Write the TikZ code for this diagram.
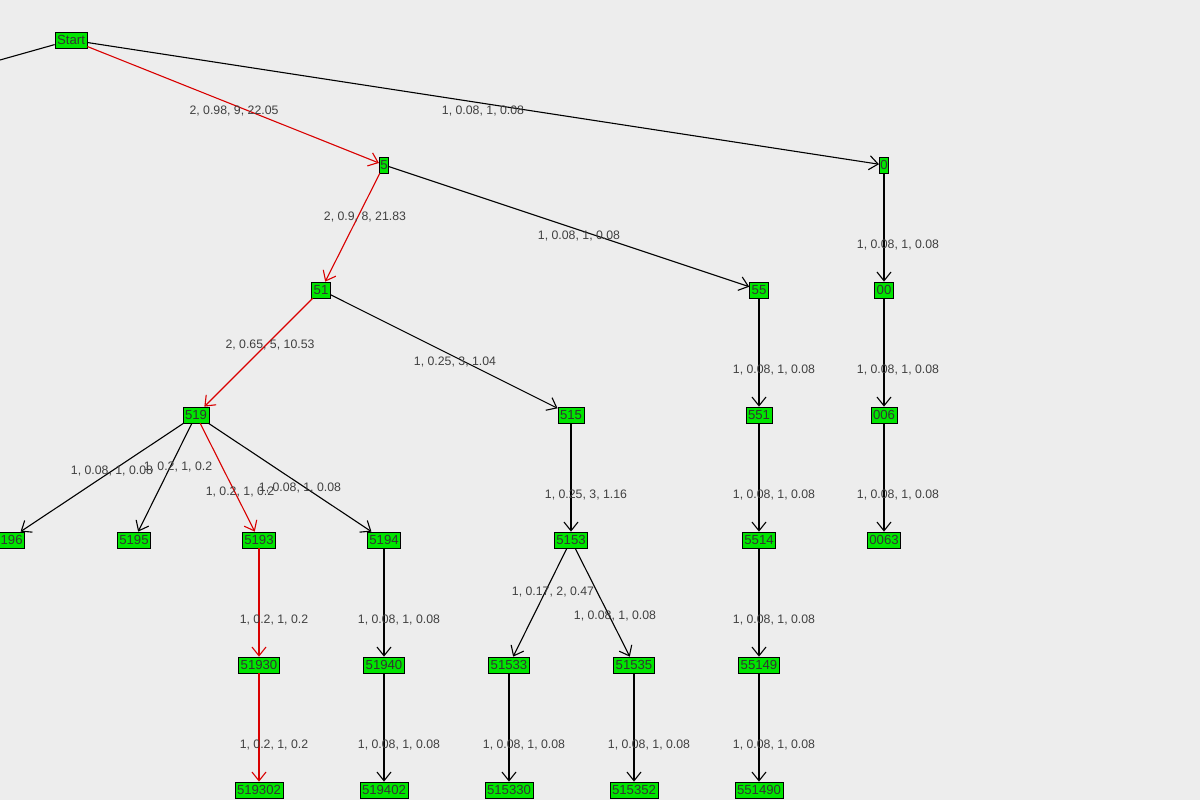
\documentclass[tikz,border=0pt]{standalone}
\usepackage{fontspec}
\setmainfont{Liberation Sans}
\usetikzlibrary{arrows.meta}

\begin{document}
\begin{tikzpicture}[x=0.02cm, y=-0.02cm,
                    treenode/.style={rectangle, draw=black, fill=green!90!black, text=black!80, font=\fontsize{7.5}{8}\selectfont, inner sep=1.2pt, minimum height=0.32cm},
                    lbl/.style={text=black!75, font=\fontsize{7}{8}\selectfont, inner sep=0pt},
                    edge/.style={line width=0.22mm, -{Straight Barb[length=5pt,width=8pt]}},
                    hot/.style={edge, draw=red!85!black},
                ]
                    \fill[black!7] (0,0) rectangle (1200,800);
                    \useasboundingbox (0,0) rectangle (1200,800);

                    %Nodes
                    \node[treenode](start) at (71,40) {Start};
                    \coordinate (offleft) at (0,60);
                    \node[treenode, inner sep=0.6pt](n5) at (384,165) {5};
                    \node[treenode, inner sep=0.6pt](n0) at (884,165) {0};
                    \node[treenode](n51) at (321,290) {51};
                    \node[treenode](n55) at (759,290) {55};
                    \node[treenode](n00) at (884,290) {00};
                    \node[treenode](n519) at (196,415) {519};
                    \node[treenode](n515) at (571,415) {515};
                    \node[treenode](n551) at (759,415) {551};
                    \node[treenode](n006) at (884,415) {006};
                    \node[treenode](n5196) at (8,540) {5196};
                    \node[treenode](n5195) at (134,540) {5195};
                    \node[treenode](n5193) at (259,540) {5193};
                    \node[treenode](n5194) at (384,540) {5194};
                    \node[treenode](n5153) at (571,540) {5153};
                    \node[treenode](n5514) at (759,540) {5514};
                    \node[treenode](n0063) at (884,540) {0063};
                    \node[treenode](n51930) at (259,665) {51930};
                    \node[treenode](n51940) at (384,665) {51940};
                    \node[treenode](n51533) at (509,665) {51533};
                    \node[treenode](n51535) at (634,665) {51535};
                    \node[treenode](n55149) at (759,665) {55149};
                    \node[treenode](n519302) at (259,790) {519302};
                    \node[treenode](n519402) at (384,790) {519402};
                    \node[treenode](n515330) at (509,790) {515330};
                    \node[treenode](n515352) at (634,790) {515352};
                    \node[treenode](n551490) at (759,790) {551490};

                    %Lines
                    \draw[line width=0.22mm](start) -- (offleft);
                    \draw[hot](start) -- (n5);
                    \draw[edge](start) -- (n0);
                    \draw[hot](n5) -- (n51);
                    \draw[edge](n5) -- (n55);
                    \draw[edge](n0) -- (n00);
                    \draw[hot](n51) -- (n519);
                    \draw[edge](n51) -- (n515);
                    \draw[edge](n55) -- (n551);
                    \draw[edge](n00) -- (n006);
                    \draw[edge](n519) -- (n5196);
                    \draw[edge](n519) -- (n5195);
                    \draw[hot](n519) -- (n5193);
                    \draw[edge](n519) -- (n5194);
                    \draw[edge](n515) -- (n5153);
                    \draw[edge](n551) -- (n5514);
                    \draw[edge](n006) -- (n0063);
                    \draw[hot](n5193) -- (n51930);
                    \draw[edge](n5194) -- (n51940);
                    \draw[edge](n5153) -- (n51533);
                    \draw[edge](n5153) -- (n51535);
                    \draw[edge](n5514) -- (n55149);
                    \draw[hot](n51930) -- (n519302);
                    \draw[edge](n51940) -- (n519402);
                    \draw[edge](n51533) -- (n515330);
                    \draw[edge](n51535) -- (n515352);
                    \draw[edge](n55149) -- (n551490);

                    %Labels
                    \node[lbl](l1) at (234,111) {2, 0.98, 9, 22.05};
                    \node[lbl](l2) at (483,111) {1, 0.08, 1, 0.08};
                    \node[lbl](l3) at (365,217) {2, 0.9, 8, 21.83};
                    \node[lbl](l4) at (579,236) {1, 0.08, 1, 0.08};
                    \node[lbl](l5) at (898,245) {1, 0.08, 1, 0.08};
                    \node[lbl](l6) at (270,345) {2, 0.65, 5, 10.53};
                    \node[lbl](l7) at (455,362) {1, 0.25, 3, 1.04};
                    \node[lbl](l8) at (774,370) {1, 0.08, 1, 0.08};
                    \node[lbl](l9) at (898,370) {1, 0.08, 1, 0.08};
                    \node[lbl](l10) at (112,471) {1, 0.08, 1, 0.08};
                    \node[lbl](l11) at (178,467) {1, 0.2, 1, 0.2};
                    \node[lbl](l12) at (240,492) {1, 0.2, 1, 0.2};
                    \node[lbl](l13) at (300,488) {1, 0.08, 1, 0.08};
                    \node[lbl](l14) at (586,495) {1, 0.25, 3, 1.16};
                    \node[lbl](l15) at (774,495) {1, 0.08, 1, 0.08};
                    \node[lbl](l16) at (898,495) {1, 0.08, 1, 0.08};
                    \node[lbl](l17) at (553,592) {1, 0.17, 2, 0.47};
                    \node[lbl](l18) at (615,616) {1, 0.08, 1, 0.08};
                    \node[lbl](l19) at (274,620) {1, 0.2, 1, 0.2};
                    \node[lbl](l20) at (399,620) {1, 0.08, 1, 0.08};
                    \node[lbl](l21) at (774,620) {1, 0.08, 1, 0.08};
                    \node[lbl](l22) at (274,745) {1, 0.2, 1, 0.2};
                    \node[lbl](l23) at (399,745) {1, 0.08, 1, 0.08};
                    \node[lbl](l24) at (524,745) {1, 0.08, 1, 0.08};
                    \node[lbl](l25) at (649,745) {1, 0.08, 1, 0.08};
                    \node[lbl](l26) at (774,745) {1, 0.08, 1, 0.08};
                \end{tikzpicture}
\end{document}
